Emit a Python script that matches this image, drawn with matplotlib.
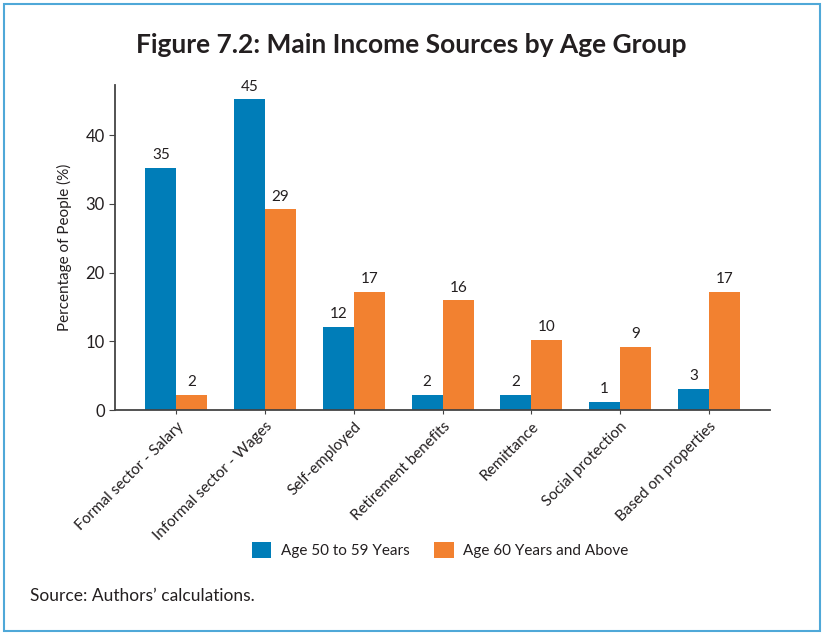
import matplotlib
matplotlib.use("Agg")
import matplotlib.pyplot as plt
import numpy as np
from matplotlib.patches import Rectangle

plt.rcParams['font.family'] = ['Lato', 'DejaVu Sans']

categories = ["Formal sector - Salary", "Informal sector - Wages", "Self-employed",
              "Retirement benefits", "Remittance", "Social protection",
              "Based on properties"]
age_50_59 = [35.2, 45.2, 12.1, 2.2, 2.2, 1.2, 3.1]
age_60_up = [2.2, 29.2, 17.2, 16.0, 10.2, 9.2, 17.2]
series_names = ["Age 50 to 59 Years", "Age 60 Years and Above"]

BLUE = "#007DB8"
ORANGE = "#F28130"
TEXT = "#231F20"

fig = plt.figure(figsize=(8.22, 6.33), dpi=100)
ax = fig.add_axes([0.140, 0.352, 0.797, 0.514])

x = np.arange(len(categories))
w = 0.35
b1 = ax.bar(x - w / 2, age_50_59, w, color=BLUE, label=series_names[0])
b2 = ax.bar(x + w / 2, age_60_up, w, color=ORANGE, label=series_names[1])

for bars, vals in ((b1, age_50_59), (b2, age_60_up)):
    for rect, v in zip(bars, vals):
        ax.annotate(f"{v:.0f}", (rect.get_x() + rect.get_width() / 2, v),
                    xytext=(0, 4), textcoords="offset points",
                    ha="center", va="bottom", fontsize=11, color=TEXT)

ax.set_xlim(-0.69, len(categories) - 0.31)
ax.set_ylim(0, 47.3)
ax.set_yticks([0, 10, 20, 30, 40])
ax.set_xticks(x)
ax.set_xticklabels(categories, rotation=45, ha="right", rotation_mode="anchor",
                   fontsize=11, color=TEXT)
ax.tick_params(axis="y", labelsize=12, colors="#444444", labelcolor=TEXT, length=4)
ax.tick_params(axis="x", length=3, colors="#444444", labelcolor=TEXT)
ax.set_ylabel("Percentage of People (%)", fontsize=11, color=TEXT, labelpad=10)

for s in ("top", "right"):
    ax.spines[s].set_visible(False)
for s in ("left", "bottom"):
    ax.spines[s].set_color("#444444")
    ax.spines[s].set_linewidth(1.3)

fig.text(0.5, 0.929, "Figure 7.2: Main Income Sources by Age Group",
         ha="center", va="center", fontsize=19, fontweight="bold", color=TEXT)

fig.legend(handles=[b1, b2], labels=series_names, loc="center",
           bbox_to_anchor=(0.535, 0.131), ncol=2, frameon=False, fontsize=11,
           handlelength=1.3, handleheight=1.3, columnspacing=1.6, handletextpad=0.6,
           labelcolor=TEXT)

fig.text(0.037, 0.059, "Source: Authors\u2019 calculations.", ha="left",
         va="center", fontsize=12.5, color=TEXT)

# thin frame round the whole figure
fig.patches.append(Rectangle((0.005, 0.003), 0.992, 0.99, transform=fig.transFigure,
                             fill=False, edgecolor="#4FA8D8", linewidth=1.5))

fig.savefig("out.png", dpi=100)
